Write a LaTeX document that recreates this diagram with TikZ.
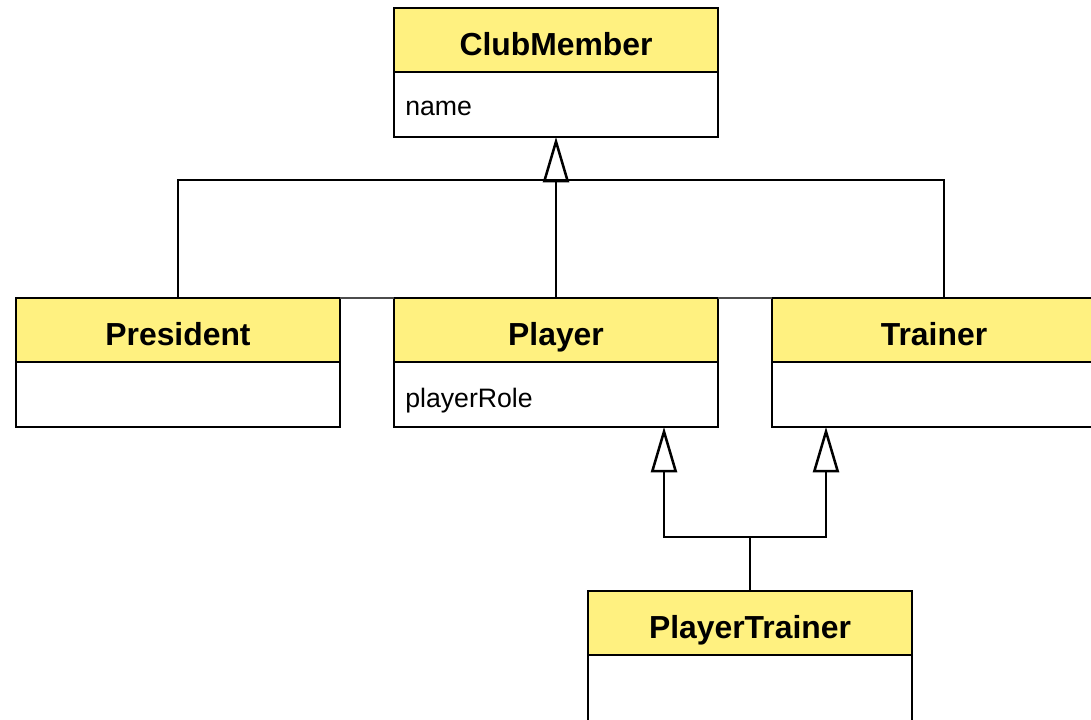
\documentclass[tikz,border=0pt]{standalone}
\usepackage{fontspec}
\setmainfont{Liberation Sans}
\usetikzlibrary{arrows.meta,calc}
\definecolor{hdr}{RGB}{255,241,128}
\tikzset{
  hbox/.style={draw=black,fill=hdr,line width=2.2pt,minimum width=243pt,minimum height=48pt,inner sep=0pt,outer sep=0pt,anchor=north west},
  bbox/.style={draw=black,fill=white,line width=2.2pt,minimum width=243pt,minimum height=48.75pt,inner sep=0pt,outer sep=0pt,anchor=north},
  htext/.style={font=\fontsize{23.9}{26}\selectfont\bfseries,anchor=base,inner sep=0pt},
  btext/.style={font=\fontsize{20}{24}\selectfont,anchor=base west,inner sep=0pt},
  conn/.style={draw=black,line width=1.9pt},
  inh/.style={conn,-{Triangle[open,length=34pt,width=19.5pt,line width=1.9pt]}},
  gap/.style={draw=black!70,line width=1.2pt}
}
\begin{document}
\begin{tikzpicture}[x=0.75pt,y=-0.75pt]
\useasboundingbox (0,0) rectangle (1091,719);
\clip (0,0) rectangle (1091,719);
% ClubMember
\node[hbox] (cm) at (394,8) {};
\node[bbox] (cmb) at (cm.south) {};
\node[htext] (cmt) at (556,55) {ClubMember};
\node[btext] (cmn) at (405,115) {name};
% President
\node[hbox] (pr) at (16,298) {};
\node[bbox] (prb) at (pr.south) {};
\node[htext] (prt) at (178,345) {President};
% Player
\node[hbox] (pl) at (394,298) {};
\node[bbox] (plb) at (pl.south) {};
\node[htext] (plt) at (556,345) {Player};
\node[btext] (pln) at (405,407) {playerRole};
% Trainer
\node[hbox] (tr) at (772,298) {};
\node[bbox] (trb) at (tr.south) {};
\node[htext] (trt) at (934,345) {Trainer};
% PlayerTrainer
\node[hbox] (pt) at (588,591) {};
\node[bbox,minimum height=60pt] (ptb) at (pt.south) {};
\node[htext] (ptt) at (750,638) {PlayerTrainer};
% gap lines along top of row
\draw[gap] (pr.north east) -- (pl.north west);
\draw[gap] (pl.north east) -- (tr.north west);
% upper inheritance tree
\coordinate (j1) at (556,180);
\coordinate (trc) at ($(tr.north)+(10,0)$);
\draw[conn] (pr.north) |- (j1) -| (trc);
\draw[inh] (pl.north) -- (cmb.south);
% lower inheritance
\coordinate (j2) at (750,537);
\draw[conn] (pt.north) -- (j2);
\draw[inh] (j2) -| ($(plb.south)+(108,0)$);
\draw[inh] (j2) -| ($(trb.south)+(-108,0)$);
\end{tikzpicture}
\end{document}
